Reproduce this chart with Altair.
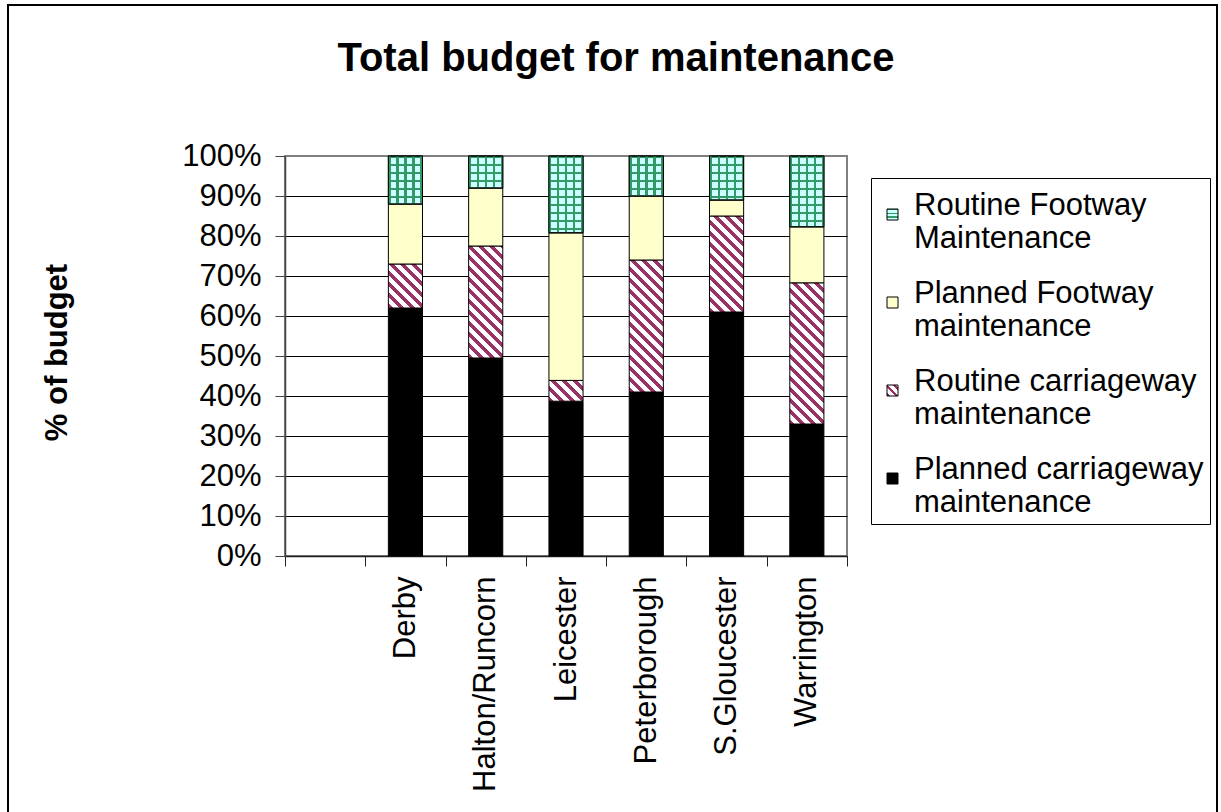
import json
import altair as alt

# ---------------- data ----------------
cities = ["Derby", "Halton/Runcorn", "Leicester", "Peterborough", "S.Gloucester", "Warrington"]
planned_carriageway = [62.0, 49.5, 38.7, 41.0, 61.0, 33.0]
routine_carriageway = [11.0, 28.0, 5.2, 33.0, 24.0, 35.3]
planned_footway = [15.0, 14.5, 36.9, 16.0, 4.0, 14.0]
routine_footway = [12.0, 8.0, 19.2, 10.0, 11.0, 17.7]

series_names = [
    "Planned carriageway maintenance",
    "Routine carriageway maintenance",
    "Planned Footway maintenance",
    "Routine Footway Maintenance",
]
series_values = [planned_carriageway, routine_carriageway, planned_footway, routine_footway]
legend_order = list(reversed(series_names))

# ---------------- layout / style ----------------
W, H = 562, 400
N_SLOTS = len(cities) + 1
BAR_W = W / N_SLOTS * 0.425
PX_PER_UNIT = H / 100.0

MAROON = "#993366"
YELLOW = "#FFFFCC"
AQUA = "#CCFFFF"
GREEN = "#339966"
CLEAR = "rgba(0,0,0,0)"


def diag_gradient(w, h, period, frac, fg, bg):
    """Downward diagonal stripes (45 deg in pixel space) via a bbox gradient."""
    L = w + h
    k = L / (w * w + h * h)
    stops = []
    n = 0
    while n * period < L:
        a = n * period / L
        b = min((n * period + frac * period) / L, 1.0)
        c = min((n + 1) * period / L, 1.0)
        stops += [{"offset": a, "color": fg}, {"offset": b, "color": fg}]
        if b < 1.0:
            stops += [{"offset": b, "color": bg}, {"offset": c, "color": bg}]
        n += 1
    return {"gradient": "linear", "x1": 0, "y1": 1, "x2": k * w, "y2": 1 - k * h, "stops": stops}


def line_gradient(length, period, frac, fg, bg, vertical):
    stops = []
    n = 0
    while n * period < length:
        a = n * period / length
        b = min((n * period + frac * period) / length, 1.0)
        c = min((n + 1) * period / length, 1.0)
        stops += [{"offset": a, "color": fg}, {"offset": b, "color": fg}]
        if b < 1.0:
            stops += [{"offset": b, "color": bg}, {"offset": c, "color": bg}]
        n += 1
    if vertical:
        return {"gradient": "linear", "x1": 0, "y1": 0, "x2": 0, "y2": 1, "stops": stops}
    return {"gradient": "linear", "x1": 0, "y1": 0, "x2": 1, "y2": 0, "stops": stops}


def fills_for(order, value):
    h = max(value * PX_PER_UNIT, 1.0)
    if order == 0:
        return "black", CLEAR
    if order == 1:
        return diag_gradient(BAR_W, h, 11.0, 0.45, MAROON, "white"), CLEAR
    if order == 2:
        return YELLOW, CLEAR
    return (line_gradient(h, 8.0, 0.3, GREEN, AQUA, True),
            line_gradient(BAR_W, 8.0, 0.3, GREEN, CLEAR, False))


records = []
for i, city in enumerate(cities):
    for j, name in enumerate(series_names):
        v = series_values[j][i]
        fm, fo = fills_for(j, v)
        records.append({"city": city, "series": name, "order": j, "value": v,
                        "fill_main": fm, "fill_over": fo})

# legend swatch patterns (small squares)
legend_fills = {
    "Routine Footway Maintenance": line_gradient(11, 3.7, 0.35, GREEN, AQUA, True),
    "Planned Footway maintenance": YELLOW,
    "Routine carriageway maintenance": diag_gradient(11, 11, 8.0, 0.45, MAROON, "white"),
    "Planned carriageway maintenance": "black",
}
legend_range = [alt.ExprRef(json.dumps(legend_fills[s])) for s in legend_order]

# ---------------- encodings ----------------
x_enc = alt.X(
    "city:N",
    scale=alt.Scale(domain=[" "] + cities, paddingInner=0, paddingOuter=0),
    axis=alt.Axis(title=None, labelAngle=270, labelFontSize=31, labelPadding=10,
                  labelLimit=500, tickSize=10, tickBand="extent", grid=False,
                  domainColor="#222", tickColor="#222", labelColor="black",
                  domainWidth=1.5),
)


def y_enc(field):
    return alt.Y(
        field,
        type="quantitative",
        scale=alt.Scale(domain=[0, 100], nice=False, zero=True),
        axis=alt.Axis(values=list(range(0, 101, 10)), labelExpr="datum.value + '%'",
                      labelFontSize=31, labelPadding=14, tickSize=10, labelColor="black",
                      title="% of budget", titleFontSize=31, titleFontWeight="bold",
                      titleColor="black", titleX=-228, titleY=196, titleAngle=270,
                      titleAlign="center", titleBaseline="middle", grid=True,
                      gridColor=alt.condition("datum.value == 100", alt.value("#808080"), alt.value("black")),
                      gridWidth=1, domainColor="#444", tickColor="#444", domainWidth=1.5),
    )


base = alt.Chart(alt.Data(values=records)).transform_stack(
    stack="value", groupby=["city"], sort=[alt.SortField("order", order="ascending")],
    as_=["v0", "v1"],
)

bars = base.mark_bar(stroke="black", strokeWidth=1, width=BAR_W).encode(
    x=x_enc, y=y_enc("v0"), y2=alt.Y2("v1"),
    fill=alt.Fill("fill_main:N", scale=None),
)

overlay = base.transform_filter("datum.order == 3").mark_bar(
    stroke="black", strokeWidth=1, width=BAR_W
).encode(
    x=x_enc, y=y_enc("v0"), y2=alt.Y2("v1"),
    fill=alt.Fill("fill_over:N", scale=None),
)

legend_layer = base.mark_bar(strokeWidth=0, width=BAR_W).encode(
    x=x_enc, y=y_enc("v1"), y2=alt.Y2("v1"),
    color=alt.Color(
        "series:N",
        scale=alt.Scale(domain=legend_order, range=legend_range),
        legend=alt.Legend(
            title=" ", titleFontSize=11, titlePadding=4,
            orient="none", legendX=586, legendY=22, direction="vertical",
            symbolType="square", symbolSize=121, symbolStrokeColor="black",
            symbolStrokeWidth=1, labelFontSize=31, labelLimit=600, labelColor="black",
            labelExpr="[slice(datum.label, 0, lastindexof(datum.label, ' ')), slice(datum.label, lastindexof(datum.label, ' ') + 1)]",
            labelBaseline="alphabetic", labelOffset=6, padding=6, rowPadding=23,
            strokeColor="black", fillColor="white",
        ),
    ),
)

frame = alt.Chart(alt.Data(values=[{}])).mark_rect(
    fillOpacity=0, stroke="black", strokeWidth=2
).encode(
    x=alt.value(-277), x2=alt.value(932), y=alt.value(-151), y2=alt.value(700),
)

chart = alt.layer(frame, bars, overlay, legend_layer).properties(
    width=W, height=H,
    autosize=alt.AutoSizeParams(type="none"),
    padding={"left": 285, "top": 156, "right": 1221 - 285 - W, "bottom": 812 - 156 - H},
    title=alt.TitleParams("Total budget for maintenance", fontSize=40, fontWeight="bold",
                          anchor="middle", frame="group", dx=50, dy=107, offset=0,
                          baseline="alphabetic", color="black"),
    background="white",
).configure(font="Liberation Sans").configure_view(stroke="#808080", strokeWidth=2)

chart.save("out.html", embed_options={"renderer": "svg", "actions": False})
